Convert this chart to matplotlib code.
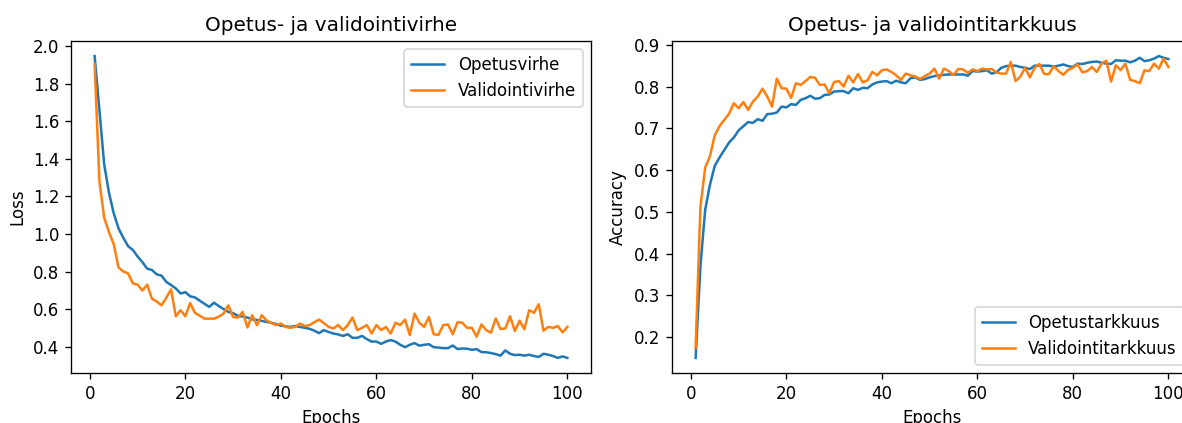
import matplotlib
matplotlib.use("Agg")
import matplotlib.pyplot as plt
import numpy as np

epochs = list(range(1, 101))

train_loss = [1.947, 1.66, 1.37, 1.22, 1.11, 1.03, 0.98, 0.935, 0.915, 0.88,
              0.85, 0.815, 0.808, 0.785, 0.778, 0.745, 0.728, 0.71, 0.683, 0.69,
              0.668, 0.662, 0.645, 0.628, 0.612, 0.634, 0.616, 0.60, 0.585, 0.578,
              0.565, 0.56, 0.555, 0.545, 0.542, 0.537, 0.532, 0.527, 0.52, 0.512,
              0.508, 0.505, 0.51, 0.505, 0.50, 0.495, 0.485, 0.472, 0.488, 0.478,
              0.47, 0.465, 0.457, 0.466, 0.447, 0.447, 0.457, 0.44, 0.427, 0.427,
              0.415, 0.427, 0.435, 0.427, 0.41, 0.397, 0.41, 0.419, 0.405, 0.41,
              0.413, 0.397, 0.395, 0.392, 0.392, 0.406, 0.387, 0.39, 0.389, 0.383,
              0.387, 0.371, 0.37, 0.366, 0.36, 0.352, 0.38, 0.362, 0.355, 0.357,
              0.352, 0.357, 0.35, 0.345, 0.362, 0.357, 0.35, 0.34, 0.348, 0.34]

val_loss = [1.905, 1.28, 1.086, 1.01, 0.945, 0.822, 0.80, 0.79, 0.737, 0.73,
            0.699, 0.73, 0.655, 0.64, 0.62, 0.66, 0.705, 0.562, 0.594, 0.562,
            0.632, 0.58, 0.565, 0.549, 0.549, 0.549, 0.56, 0.576, 0.62, 0.558,
            0.555, 0.585, 0.502, 0.567, 0.514, 0.567, 0.54, 0.526, 0.514, 0.523,
            0.505, 0.50, 0.505, 0.523, 0.51, 0.514, 0.53, 0.544, 0.525, 0.505,
            0.497, 0.515, 0.488, 0.515, 0.555, 0.488, 0.50, 0.515, 0.47, 0.515,
            0.488, 0.505, 0.47, 0.527, 0.515, 0.544, 0.462, 0.576, 0.527, 0.505,
            0.558, 0.466, 0.462, 0.515, 0.518, 0.466, 0.53, 0.527, 0.50, 0.50,
            0.453, 0.518, 0.488, 0.474, 0.55, 0.494, 0.497, 0.562, 0.483, 0.538,
            0.492, 0.594, 0.58, 0.626, 0.485, 0.505, 0.50, 0.51, 0.476, 0.505]

train_acc = [0.150, 0.37, 0.505, 0.565, 0.61, 0.63, 0.648, 0.666, 0.678, 0.695,
             0.705, 0.715, 0.713, 0.722, 0.718, 0.734, 0.735, 0.738, 0.752, 0.75,
             0.758, 0.756, 0.768, 0.772, 0.778, 0.771, 0.772, 0.78, 0.781, 0.788,
             0.789, 0.789, 0.784, 0.796, 0.792, 0.797, 0.796, 0.805, 0.81, 0.812,
             0.813, 0.808, 0.814, 0.81, 0.808, 0.82, 0.822, 0.816, 0.818, 0.822,
             0.825, 0.827, 0.828, 0.829, 0.829, 0.829, 0.829, 0.826, 0.837, 0.836,
             0.837, 0.839, 0.831, 0.834, 0.845, 0.849, 0.85, 0.85, 0.847, 0.845,
             0.842, 0.85, 0.85, 0.85, 0.85, 0.848, 0.85, 0.853, 0.849, 0.847,
             0.855, 0.854, 0.857, 0.859, 0.86, 0.857, 0.855, 0.854, 0.863, 0.862,
             0.862, 0.858, 0.862, 0.869, 0.861, 0.863, 0.867, 0.873, 0.869, 0.866]

val_acc = [0.174, 0.512, 0.606, 0.633, 0.683, 0.705, 0.72, 0.735, 0.76, 0.748,
           0.763, 0.744, 0.764, 0.776, 0.795, 0.776, 0.752, 0.819, 0.796, 0.795,
           0.773, 0.808, 0.804, 0.813, 0.823, 0.821, 0.804, 0.805, 0.784, 0.811,
           0.813, 0.8, 0.826, 0.81, 0.83, 0.81, 0.815, 0.835, 0.827, 0.839,
           0.841, 0.835, 0.827, 0.816, 0.831, 0.827, 0.824, 0.818, 0.825, 0.831,
           0.843, 0.819, 0.843, 0.837, 0.828, 0.842, 0.841, 0.833, 0.841, 0.837,
           0.843, 0.841, 0.842, 0.834, 0.831, 0.831, 0.859, 0.813, 0.824, 0.845,
           0.822, 0.845, 0.854, 0.83, 0.83, 0.849, 0.837, 0.828, 0.84, 0.845,
           0.853, 0.834, 0.837, 0.847, 0.835, 0.855, 0.862, 0.812, 0.851, 0.839,
           0.855, 0.816, 0.813, 0.808, 0.839, 0.837, 0.855, 0.843, 0.867, 0.847]

DPI = 120
W, H = 1182, 423
fig = plt.figure(figsize=(W / DPI, H / DPI), dpi=DPI)
ax1 = fig.add_axes([71 / W, 50 / H, 520 / W, 332 / H])
ax2 = fig.add_axes([672 / W, 50 / H, 520 / W, 332 / H])

ax1.plot(epochs, train_loss, label="Opetusvirhe")
ax1.plot(epochs, val_loss, label="Validointivirhe")
ax1.set_title("Opetus- ja validointivirhe")
ax1.set_xlabel("Epochs")
ax1.set_ylabel("Loss")
ax1.legend(loc="upper right")

ax2.plot(epochs, train_acc, label="Opetustarkkuus")
ax2.plot(epochs, val_acc, label="Validointitarkkuus")
ax2.set_title("Opetus- ja validointitarkkuus")
ax2.set_xlabel("Epochs")
ax2.set_ylabel("Accuracy")
ax2.legend(loc="lower right")

fig.savefig("out.png", dpi=DPI)
